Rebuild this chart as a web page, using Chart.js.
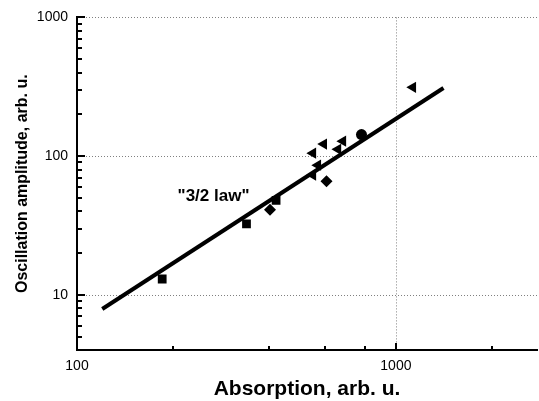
<!DOCTYPE html>
<html><head><meta charset="utf-8">
<script src="https://cdn.jsdelivr.net/npm/chart.js@4/dist/chart.umd.min.js"></script>
<style>html,body{margin:0;padding:0;background:#fff;overflow:hidden}canvas{display:block}</style>
</head><body>
<canvas id="c" width="539" height="401"></canvas>
<script>
// ---- data ----
const squareX = [185, 340, 421];
const squareY = [13, 32.5, 48];
const diamondX = [403, 606];
const diamondY = [41, 66];
const circleX = [780];
const circleY = [143];
const triangleX = [549, 594, 658, 682, 569, 549, 1130];
const triangleY = [105, 122, 112, 128, 86, 73, 313];
const fitX = [120, 1410];
const fitY = [7.9, 310];
const lawLabel = '"3/2 law"';
const lawPos = [268, 51.5];
const xTicks = [100, 200, 400, 600, 800, 1000, 2000];
const yTicks = [4,5,6,7,8,9,10,20,30,40,50,60,70,80,90,100,200,300,400,500,600,700,800,900,1000];
const xLabels = [100, 1000];
const yLabels = [10, 100, 1000];
const xGrid = [1000];
const yGrid = [10, 100, 1000];
const xTitle = 'Absorption, arb. u.';
const yTitle = 'Oscillation amplitude, arb. u.';

const pts = (xs, ys) => xs.map((x, i) => ({x, y: ys[i]}));
const FONT = "'Liberation Sans', Arial, sans-serif";
const isMajor = v => Math.abs(Math.log10(v) - Math.round(Math.log10(v))) < 1e-9;

const dottedGrid = {
  id: 'dottedGrid',
  beforeDatasetsDraw(chart) {
    const {ctx, chartArea: a} = chart;
    const xs = chart.scales.x, ys = chart.scales.y;
    ctx.save();
    ctx.strokeStyle = '#808080';
    ctx.lineWidth = 1;
    ctx.setLineDash([1, 2]);
    ctx.beginPath();
    yGrid.forEach(v => {
      const p = Math.round(ys.getPixelForValue(v)) + 0.5;
      ctx.moveTo(a.left, p); ctx.lineTo(a.right, p);
    });
    xGrid.forEach(v => {
      const p = Math.round(xs.getPixelForValue(v)) + 0.5;
      ctx.moveTo(p, a.top); ctx.lineTo(p, a.bottom);
    });
    ctx.stroke();
    ctx.restore();
  }
};

const inwardTicks = {
  id: 'inwardTicks',
  afterDraw(chart) {
    const {ctx, chartArea: a} = chart;
    const xs = chart.scales.x, ys = chart.scales.y;
    ctx.save();
    ctx.strokeStyle = '#000';
    ctx.lineWidth = 2;
    ctx.beginPath();
    yTicks.forEach(v => {
      const p = Math.round(ys.getPixelForValue(v));
      const len = isMajor(v) ? 8 : 5;
      ctx.moveTo(a.left, p); ctx.lineTo(a.left + len, p);
    });
    xTicks.forEach(v => {
      if (v === 100) return;
      const p = Math.round(xs.getPixelForValue(v));
      const len = isMajor(v) ? 7 : 4;
      ctx.moveTo(p, a.bottom); ctx.lineTo(p, a.bottom - len);
    });
    ctx.stroke();
    ctx.restore();
  }
};

const lawText = {
  id: 'lawText',
  afterDatasetsDraw(chart) {
    const {ctx} = chart;
    const x = chart.scales.x.getPixelForValue(lawPos[0]);
    const y = chart.scales.y.getPixelForValue(lawPos[1]);
    ctx.save();
    ctx.fillStyle = '#000';
    ctx.font = "bold 17px " + FONT;
    ctx.textAlign = 'center';
    ctx.textBaseline = 'middle';
    ctx.fillText(lawLabel, x, y);
    ctx.restore();
  }
};

new Chart(document.getElementById('c'), {
  type: 'scatter',
  data: {
    datasets: [
      {data: pts(fitX, fitY), showLine: true, borderColor: '#000', borderWidth: 4, pointRadius: 0, borderCapStyle: 'butt'},
      {data: pts(squareX, squareY), pointStyle: 'rect', pointRadius: 6.2, backgroundColor: '#000', borderWidth: 0},
      {data: pts(diamondX, diamondY), pointStyle: 'rectRot', pointRadius: 6, backgroundColor: '#000', borderWidth: 0},
      {data: pts(circleX, circleY), pointStyle: 'circle', pointRadius: 5.5, backgroundColor: '#000', borderWidth: 0},
      {data: pts(triangleX, triangleY), pointStyle: 'triangle', rotation: -90, pointRadius: 6.5, backgroundColor: '#000', borderWidth: 0}
    ]
  },
  options: {
    responsive: false,
    animation: false,
    events: [],
    layout: {autoPadding: false, padding: {top: 17, right: 2, left: 0, bottom: 0}},
    plugins: {legend: {display: false}, tooltip: {enabled: false}},
    scales: {
      x: {
        type: 'logarithmic', min: 100, max: 2770,
        afterBuildTicks: s => { s.ticks = xTicks.map(v => ({value: v})); },
        afterFit: s => { s.height = 51; s.paddingLeft = 0; s.paddingRight = 0; },
        grid: {display: false, drawTicks: false},
        border: {display: true, color: '#000', width: 2},
        ticks: {autoSkip: false, maxRotation: 0, padding: 8, color: '#000',
          font: {family: FONT, size: 14},
          callback: v => xLabels.includes(v) ? String(v) : ''},
        title: {display: true, text: xTitle, color: '#000', padding: {top: 0, bottom: 0},
          font: {family: FONT, size: 21, weight: 'bold', lineHeight: 1.1}}
      },
      y: {
        type: 'logarithmic', min: 4, max: 1000,
        afterBuildTicks: s => { s.ticks = yTicks.map(v => ({value: v})); },
        afterFit: s => { s.width = 77; },
        grid: {display: false, drawTicks: false},
        border: {display: true, color: '#000', width: 2},
        ticks: {autoSkip: false, padding: 9, color: '#000',
          font: {family: FONT, size: 14},
          callback: v => yLabels.includes(v) ? String(v) : ''},
        title: {display: true, text: yTitle, color: '#000', padding: {top: 13, bottom: 0},
          font: {family: FONT, size: 16, weight: 'bold'}}
      }
    }
  },
  plugins: [dottedGrid, inwardTicks, lawText]
});
</script>
</body></html>
